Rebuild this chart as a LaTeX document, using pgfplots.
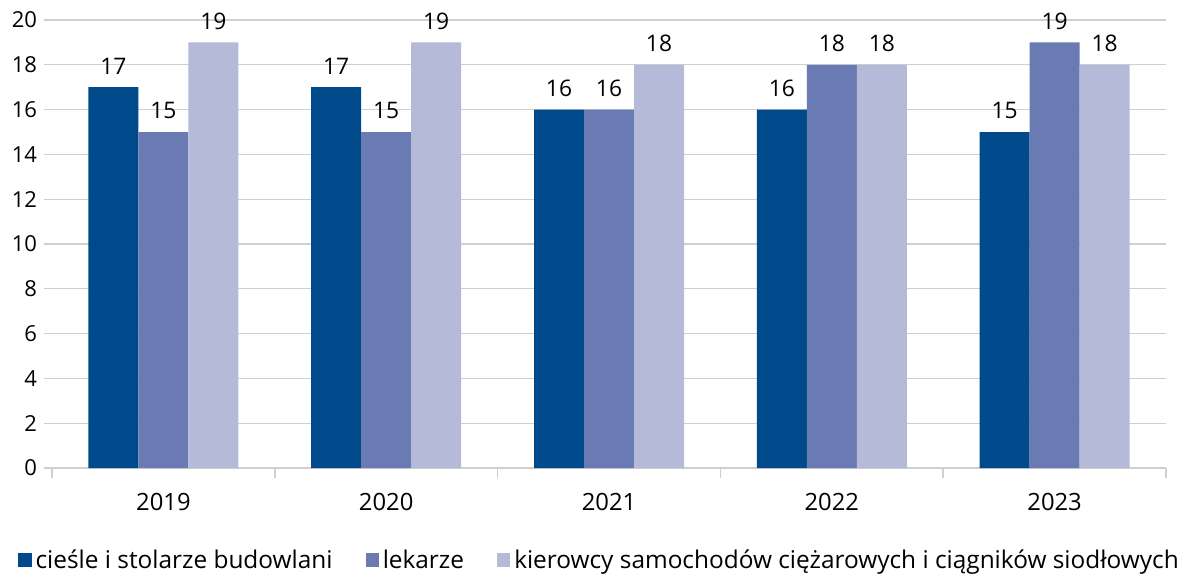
\documentclass[border=0pt]{standalone}
\usepackage{fontspec}
\setmainfont{Open Sans}
\usepackage{pgfplots}
\pgfplotsset{compat=1.18}
\definecolor{c1}{HTML}{004A8B}
\definecolor{c2}{HTML}{6A7BB3}
\definecolor{c3}{HTML}{B6BAD9}
\definecolor{gridc}{HTML}{CFCFCF}
\newcommand{\ylblfont}{\fontsize{11}{13}\selectfont}
\newcommand{\xlblfont}{\fontsize{11.9}{14}\selectfont}
\newcommand{\barfont}{\fontsize{11.4}{13.5}\selectfont}
\newcommand{\legfont}{\fontsize{12.2}{14.5}\selectfont}
\begin{document}
\begin{tikzpicture}
\begin{axis}[name=ax,
  scale only axis, width=557pt, height=224pt,
  ybar=0pt, bar width=25pt,
  xmin=-0.5, xmax=4.5, ymin=0, ymax=20,
  xtick={0,1,2,3,4}, xticklabels={2019,2020,2021,2022,2023},
  minor xtick={-0.5,0.5,1.5,2.5,3.5,4.5},
  major x tick style={draw=none},
  minor x tick style={draw=gridc, line width=0.8pt},
  minor tick length=5pt,
  ytick={0,2,...,20},
  major y tick style={draw=gridc, line width=0.6pt},
  major tick length=4pt,
  tick align=outside,
  ymajorgrids, grid style={draw=gridc, line width=0.6pt},
  axis lines*=left,
  x axis line style={draw=gridc, line width=1pt, -},
  y axis line style={draw=none},
  yticklabel style={font=\ylblfont},
  xticklabel style={font=\xlblfont, yshift=-5pt},
  /pgf/number format/assume math mode=true,
  nodes near coords,
  nodes near coords style={font=\barfont, black, yshift=3pt},
  legend style={draw=none, fill=none, font=\legfont,
    at={(0,0)}, anchor=north west, xshift=-20pt, yshift=-36.5pt,
    /tikz/every even column/.append style={column sep=14.5pt}},
  legend columns=3,
  legend image code/.code={\fill[#1] (0pt,-3.3pt) rectangle (6.6pt,3.5pt);},
]
\addplot[draw=none, fill=c1] coordinates {(0,17) (1,17) (2,16) (3,16) (4,15)};
\addlegendentry{cieśle i stolarze budowlani}
\addplot[draw=none, fill=c2] coordinates {(0,15) (1,15) (2,16) (3,18) (4,19)};
\addlegendentry{lekarze}
\addplot[draw=none, fill=c3] coordinates {(0,19) (1,19) (2,18) (3,18) (4,18)};
\addlegendentry{kierowcy samochodów ciężarowych i ciągników siodłowych}
\end{axis}
\pgfresetboundingbox
\path[use as bounding box] ([shift={(-26pt,-53.5pt)}]ax.south west) rectangle ++(593pt,287.5pt);
\end{tikzpicture}
\end{document}
